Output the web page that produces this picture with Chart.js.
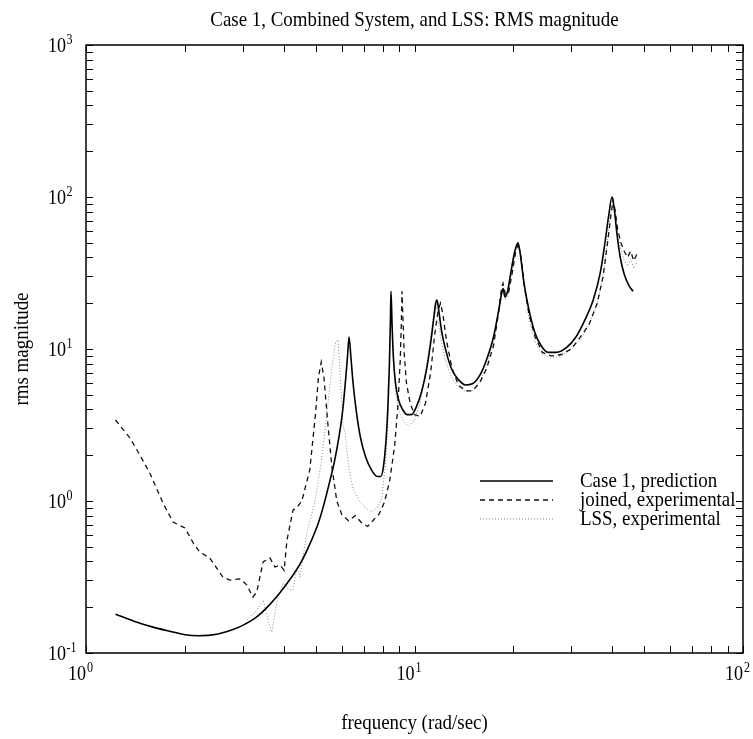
<!DOCTYPE html>
<html><head><meta charset="utf-8">
<script src="https://cdn.jsdelivr.net/npm/chart.js@4/dist/chart.umd.min.js"></script>
<style>html,body{margin:0;padding:0;background:#fff;}#wrap{width:753px;height:739px;position:relative;}</style>
</head><body><div id="wrap"><canvas id="c" width="753" height="739"></canvas></div>
<script>
const titleText = "Case 1, Combined System, and LSS: RMS magnitude";
const xTitle = "frequency (rad/sec)";
const yTitle = "rms magnitude";
const seriesNames = ["Case 1, prediction", "joined, experimental", "LSS, experimental"];
const xTickExps = [0, 1, 2];
const yTickExps = [-1, 0, 1, 2, 3];

const predFreq = [1.23,1.4,1.6,1.8,2.0,2.2,2.5,2.8,3.0,3.3,3.6,3.9,4.2,4.5,4.8,5.1,5.3,5.5,5.7,5.9,6.05,6.15,6.25,6.32,6.4,6.5,6.65,6.85,7.1,7.4,7.7,7.9,8.05,8.2,8.3,8.38,8.44,8.48,8.54,8.62,8.75,8.95,9.2,9.5,9.8,10.1,10.5,10.9,11.2,11.45,11.6,11.71,11.85,12.1,12.5,13.0,13.6,14.3,15.0,15.8,16.6,17.4,18.0,18.4,18.6,18.85,19.2,19.7,20.2,20.65,21.0,21.5,22.2,23.2,24.3,25.5,27,29,31,33,35,36.8,38,39,39.9,40.6,41.3,42.3,43.5,45,46.3];
const predMag  = [0.18,0.162,0.148,0.139,0.132,0.130,0.133,0.143,0.152,0.172,0.205,0.25,0.31,0.39,0.52,0.72,0.95,1.3,1.8,2.7,4.0,5.8,8.8,12,9,6,3.9,2.6,1.95,1.6,1.45,1.45,1.7,2.6,4.2,7.5,14,24,15,9,6,4.6,4.0,3.7,3.7,4.1,5.2,7.5,11,16,20,21,18,13,9.5,7.3,6.3,5.8,5.9,6.7,8.6,12,17.5,23,25,22,24,33,44,50,42,28,19,13,10.5,9.5,9.5,10.2,12,15.5,21,32,50,75,100,82,58,40,31,26,24];

const joinFreq = [1.23,1.36,1.46,1.57,1.715,1.84,2.0,2.12,2.22,2.38,2.61,2.74,2.94,3.09,3.22,3.31,3.46,3.63,3.76,3.9,4.01,4.09,4.27,4.39,4.54,4.8,5.0,5.1,5.2,5.3,5.45,5.6,5.8,6.0,6.3,6.6,6.9,7.2,7.5,7.8,8.1,8.4,8.7,8.9,9.05,9.12,9.16,9.22,9.3,9.45,9.7,10.0,10.4,10.8,11.2,11.5,11.8,12.0,12.2,12.5,13.0,13.6,14.3,15.0,15.8,16.6,17.4,18.0,18.4,18.6,18.9,19.3,19.8,20.3,20.7,21.1,21.6,22.3,23.3,24.5,26,28,30,32,34,36,37.5,38.7,39.6,40.2,40.8,41.5,42.5,43.5,44.5,45.5,46.5,47.5];
const joinMag  = [3.41,2.6,2.0,1.5,0.97,0.728,0.664,0.53,0.461,0.422,0.316,0.302,0.307,0.28,0.233,0.252,0.397,0.422,0.368,0.379,0.35,0.553,0.873,0.91,1.0,1.6,3.8,6.5,8.2,6.5,3.2,1.7,1.0,0.82,0.74,0.8,0.72,0.68,0.75,0.82,0.98,1.35,2.3,4.2,8.5,15,24,16,9.5,6,4.4,3.7,3.6,4.4,7,12,18,20,17,11.5,7.5,5.8,5.3,5.3,6,7.5,10.5,17,25,27,23,23,31,43,50,40,26,17,12,9.5,9,9.2,10,12,14.5,20,30,50,75,96,82,62,50,44,40,44,38,42];

const lssFreq = [3.09,3.3,3.46,3.6,3.68,3.82,3.98,4.15,4.27,4.39,4.48,4.7,4.98,5.2,5.4,5.6,5.75,5.85,5.95,6.05,6.15,6.3,6.5,6.8,7.1,7.4,7.7,7.95,8.15,8.3,8.4,8.46,8.5,8.56,8.65,8.8,9.0,9.3,9.6,10.0,10.4,10.8,11.1,11.35,11.5,11.6,11.75,12.0,12.4,12.9,13.5,14.2,15.0,15.8,16.6,17.4,18.0,18.4,18.6,18.9,19.3,19.8,20.3,20.7,21.1,21.6,22.3,23.3,24.5,26,28,30,32,34,36,37.5,38.7,39.6,40.2,40.8,41.5,42.5,43.5,44.5,45.5,46.5,47.5];
const lssMag  = [0.165,0.19,0.223,0.16,0.137,0.223,0.289,0.26,0.26,0.368,0.316,0.614,1.0,1.8,3.6,7.5,11,11.5,6.5,3.2,2.8,1.7,1.2,1.0,0.9,0.85,0.9,1.05,1.7,3.2,8.5,17,23,14,7.5,4.8,3.8,3.3,3.1,3.4,4.4,6.8,10.5,15,19,20,17,12,8.5,6.7,5.7,5.3,5.3,6.1,7.8,11.5,16.5,22,25,21,23,32,44,49,38,25,16,11,9.2,8.7,9,10,11.5,14.5,20,30,52,80,90,78,58,45,38,35,39,34,37];

const toPts = (xs, ys) => xs.map((x, i) => ({x: x, y: ys[i]}));
const SERIF = '"Liberation Serif", "DejaVu Serif", serif';
const SQ = 0.86;

function drawText(ctx, txt, x, y, size, align, rot) {
  ctx.save();
  ctx.translate(x, y);
  if (rot) ctx.rotate(rot);
  ctx.scale(SQ, 1);
  ctx.font = size + 'px ' + SERIF;
  ctx.textAlign = align;
  ctx.textBaseline = 'alphabetic';
  ctx.fillStyle = '#000';
  ctx.fillText(txt, 0, 0);
  ctx.restore();
}

const framePlugin = {
  id: 'frame',
  afterDatasetsDraw(chart) {
    const ctx = chart.ctx, a = chart.chartArea;
    const xs = chart.scales.x, ys = chart.scales.y;
    ctx.save();
    ctx.strokeStyle = '#000';
    ctx.lineWidth = 1;
    const TL = 7;
    for (let d = 0; d < 2; d++) {
      for (let m = 1; m <= 10; m++) {
        const v = m * Math.pow(10, d);
        const px = Math.round(xs.getPixelForValue(v)) + 0.5;
        ctx.beginPath(); ctx.moveTo(px, a.bottom); ctx.lineTo(px, a.bottom - TL); ctx.stroke();
        ctx.beginPath(); ctx.moveTo(px, a.top); ctx.lineTo(px, a.top + TL); ctx.stroke();
      }
    }
    for (let d = -1; d < 3; d++) {
      for (let m = 1; m <= 10; m++) {
        const v = m * Math.pow(10, d);
        const py = Math.round(ys.getPixelForValue(v)) + 0.5;
        ctx.beginPath(); ctx.moveTo(a.left, py); ctx.lineTo(a.left + TL, py); ctx.stroke();
        ctx.beginPath(); ctx.moveTo(a.right, py); ctx.lineTo(a.right - TL, py); ctx.stroke();
      }
    }
    ctx.lineWidth = 1.5;
    ctx.strokeRect(a.left, a.top, a.right - a.left, a.bottom - a.top);
    ctx.restore();

    xTickExps.forEach(e => {
      const px = xs.getPixelForValue(Math.pow(10, e));
      drawText(ctx, '10', px, a.bottom + 27, 21, 'right');
      drawText(ctx, String(e), px + 1, a.bottom + 19, 14, 'left');
    });
    yTickExps.forEach(e => {
      const py = ys.getPixelForValue(Math.pow(10, e));
      const sup = e < 0 ? '-' + Math.abs(e) : String(e);
      drawText(ctx, '10', 66, py + 7, 21, 'right');
      drawText(ctx, sup, 66.5, py - 1, 14, 'left');
    });
    const cx = (a.left + a.right) / 2;
    drawText(ctx, titleText, cx, 26, 22, 'center');
    drawText(ctx, xTitle, cx, 729, 22, 'center');
    drawText(ctx, yTitle, 28, (a.top + a.bottom) / 2, 22, 'center', -Math.PI / 2);

    const ds = chart.data.datasets;
    const rows = [481, 500, 519];
    ds.forEach((d, i) => {
      ctx.save();
      ctx.strokeStyle = d.borderColor;
      ctx.lineWidth = d.borderWidth;
      ctx.setLineDash(d.borderDash || []);
      ctx.beginPath(); ctx.moveTo(480, rows[i]); ctx.lineTo(553, rows[i]); ctx.stroke();
      ctx.restore();
      drawText(ctx, d.label, 580, rows[i] + 6, 22, 'left');
    });
  }
};

new Chart(document.getElementById('c'), {
  type: 'line',
  data: {
    datasets: [
      { label: seriesNames[0], data: toPts(predFreq, predMag), borderColor: '#000', borderWidth: 1.6, pointRadius: 0, cubicInterpolationMode: 'monotone', fill: false },
      { label: seriesNames[1], data: toPts(joinFreq, joinMag), borderColor: '#111', borderWidth: 1.3, borderDash: [5, 4], pointRadius: 0, tension: 0, fill: false },
      { label: seriesNames[2], data: toPts(lssFreq, lssMag), borderColor: '#888', borderWidth: 1, borderDash: [1, 2], pointRadius: 0, tension: 0, fill: false }
    ]
  },
  options: {
    responsive: false,
    animation: false,
    devicePixelRatio: 1,
    layout: { padding: { left: 86, right: 10, top: 45, bottom: 86 } },
    plugins: { legend: { display: false }, title: { display: false }, tooltip: { enabled: false } },
    scales: {
      x: { type: 'logarithmic', min: 1, max: 100, display: false },
      y: { type: 'logarithmic', min: 0.1, max: 1000, display: false }
    }
  },
  plugins: [framePlugin]
});
</script>
</body></html>
